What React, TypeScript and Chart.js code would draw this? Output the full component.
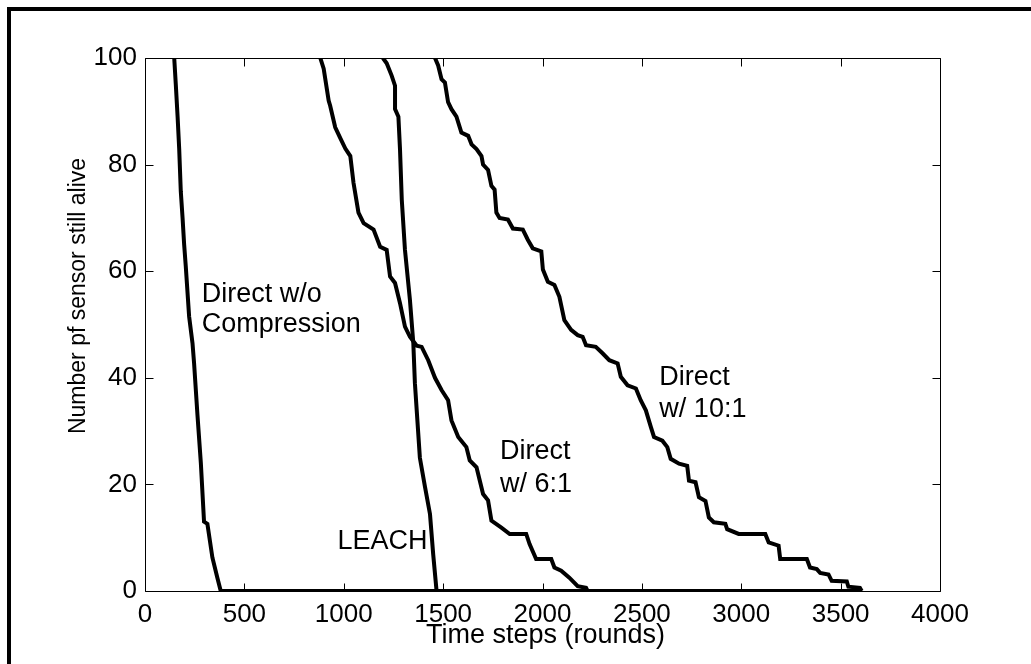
import React, { useEffect, useRef } from "react";
import { Chart, registerables } from "chart.js";

Chart.register(...registerables);

const FONT = "'Liberation Sans', Arial, Helvetica, sans-serif";

// Axis ticks
const xTicks = [0, 500, 1000, 1500, 2000, 2500, 3000, 3500, 4000];
const yTicks = [0, 20, 40, 60, 80, 100];

// Last simulated round (all curves end at 0 alive)
const END_ROUND = 3606;

// Direct transmission without compression
const directNoCompX = [147, 155, 164, 172, 180, 189, 197, 205, 222, 239, 247, 264, 281, 297, 314, 339, 364, 381];
const directNoCompY = [100, 95, 89, 83, 75, 70, 65, 61, 51.5, 46.5, 42.7, 33, 24, 13, 12.6, 6.3, 2.5, 0];

// LEACH
const leachX = [1197, 1216, 1241, 1258, 1258, 1275, 1283, 1292, 1308, 1333, 1350, 1358, 1383, 1409, 1434, 1450, 1467];
const leachY = [100, 99, 96.7, 94.8, 90.4, 89, 82.9, 73.4, 64, 54.6, 46.5, 39, 25, 19.5, 14.4, 6.9, 0];

// Direct with 6:1 compression
const direct6X = [882, 899, 924, 932, 957, 982, 1008, 1033, 1049, 1074, 1100, 1150, 1183, 1216, 1233, 1258, 1283, 1308, 1333, 1367, 1392, 1425, 1459, 1492, 1525, 1542, 1576, 1617, 1634, 1668, 1701, 1726, 1743, 1793, 1835, 1918, 1935, 1968, 2044, 2060, 2094, 2135, 2177, 2219, 2227];
const direct6Y = [100, 98, 92, 91, 87, 85, 83, 81.6, 76.6, 71, 69, 67.8, 64.6, 64, 59, 57.8, 54, 49.6, 47.7, 46, 45.8, 43.3, 40, 37.7, 35.8, 32, 28.9, 27, 24.5, 23.2, 18.2, 17, 13.2, 11.9, 10.7, 10.7, 8.8, 6, 6, 4.4, 3.8, 2.5, 0.9, 0.6, 0];

// Direct with 10:1 compression
const direct10X = [1459, 1475, 1492, 1509, 1525, 1542, 1567, 1592, 1626, 1643, 1668, 1693, 1701, 1726, 1743, 1759, 1768, 1784, 1826, 1851, 1901, 1926, 1951, 1994, 2002, 2027, 2060, 2085, 2110, 2144, 2177, 2202, 2219, 2268, 2302, 2336, 2378, 2394, 2428, 2470, 2494, 2520, 2545, 2561, 2603, 2628, 2645, 2687, 2728, 2737, 2770, 2787, 2820, 2837, 2862, 2920, 2929, 2987, 3121, 3138, 3188, 3196, 3330, 3346, 3380, 3397, 3439, 3455, 3531, 3539, 3597, 3606];
const direct10Y = [100, 98.6, 96, 95.4, 91.7, 90.4, 89, 86, 85.4, 83.8, 82.9, 81.6, 80, 79, 76, 75.3, 71, 70, 69.7, 68, 67.8, 65.9, 64.3, 63.7, 60.3, 58, 57.4, 55.2, 50.8, 49, 48, 47.7, 46.1, 45.8, 44.6, 43.3, 42.7, 40.2, 38.6, 38, 35.8, 33.9, 30.8, 28.9, 28.2, 27, 24.8, 23.9, 23.5, 20.7, 20.4, 17.6, 16.9, 13.8, 12.9, 12.6, 11.6, 10.7, 10.7, 9.1, 8.5, 6, 6, 4.4, 4.1, 3.4, 3.1, 1.9, 1.8, 0.8, 0.6, 0];

// Text labels on the plot (anchored at data coordinates: left edge, baseline)
const labelTexts = ["Direct w/o", "Compression", "LEACH", "Direct", "w/ 6:1", "Direct", "w/ 10:1"];
const labelX = [285, 285, 968, 1786, 1786, 2588, 2588];
const labelY = [54.2, 48.5, 7.9, 24.8, 18.6, 38.6, 32.6];

const xTitle = "Time steps (rounds)";
const yTitle = "Number pf sensor still alive";

function toPoints(xs: number[], ys: number[]) {
  const pts = xs.map((x, i) => ({ x, y: ys[i] }));
  if (xs[xs.length - 1] < END_ROUND) pts.push({ x: END_ROUND, y: 0 });
  return pts;
}

const matlabAxes = {
  id: "matlabAxes",
  beforeDraw(chart: any) {
    const { ctx, width, height } = chart;
    ctx.save();
    ctx.fillStyle = "#fff";
    ctx.fillRect(0, 0, width, height);
    ctx.fillStyle = "#000";
    // figure frame (top and left edges)
    ctx.fillRect(7, 7, width - 7, 4);
    ctx.fillRect(7, 7, 4, height - 7);
    ctx.restore();
  },
  beforeDatasetsDraw(chart: any) {
    const { ctx, chartArea: a, scales } = chart;
    const xs = scales.x;
    const ys = scales.y;
    ctx.save();
    ctx.strokeStyle = "#000";
    ctx.lineWidth = 1;
    const L = Math.round(a.left) + 0.5;
    const R = Math.round(a.right) + 0.5;
    const T = Math.round(a.top) + 0.5;
    const B = Math.round(a.bottom) + 0.5;
    ctx.beginPath();
    ctx.rect(L, T, R - L, B - T);
    ctx.stroke();
    const tl = 8;
    ctx.beginPath();
    xTicks.forEach((v) => {
      const p = Math.round(xs.getPixelForValue(v)) + 0.5;
      ctx.moveTo(p, B);
      ctx.lineTo(p, B - tl);
      ctx.moveTo(p, T);
      ctx.lineTo(p, T + tl);
    });
    yTicks.forEach((v) => {
      const p = Math.round(ys.getPixelForValue(v)) + 0.5;
      ctx.moveTo(L, p);
      ctx.lineTo(L + tl, p);
      ctx.moveTo(R, p);
      ctx.lineTo(R - tl, p);
    });
    ctx.stroke();
    ctx.restore();
  },
  afterDraw(chart: any) {
    const { ctx, chartArea: a, scales } = chart;
    const xs = scales.x;
    const ys = scales.y;
    ctx.save();
    ctx.fillStyle = "#000";
    ctx.textBaseline = "alphabetic";
    // annotations
    ctx.font = `27px ${FONT}`;
    ctx.textAlign = "left";
    labelTexts.forEach((t, i) => {
      ctx.fillText(t, xs.getPixelForValue(labelX[i]), ys.getPixelForValue(labelY[i]));
    });
    // x title
    ctx.font = `27px ${FONT}`;
    ctx.textAlign = "center";
    ctx.fillText(xTitle, (a.left + a.right) / 2 + 3, 643);
    // y title
    ctx.save();
    ctx.font = `23px ${FONT}`;
    ctx.translate(85, 296);
    ctx.rotate(-Math.PI / 2);
    ctx.textAlign = "center";
    ctx.fillText(yTitle, 0, 0);
    ctx.restore();
    ctx.restore();
  },
};

export default function App() {
  const ref = useRef<HTMLCanvasElement | null>(null);

  useEffect(() => {
    if (!ref.current) return;
    const mk = (xs: number[], ys: number[]) => ({
      data: toPoints(xs, ys),
      borderColor: "#000",
      backgroundColor: "#000",
      borderWidth: 4,
      pointRadius: 0,
      tension: 0,
      fill: false,
    });
    const chart = new Chart(ref.current, {
      type: "line",
      data: {
        datasets: [
          { label: "Direct w/o Compression", ...mk(directNoCompX, directNoCompY) },
          { label: "LEACH", ...mk(leachX, leachY) },
          { label: "Direct w/ 6:1", ...mk(direct6X, direct6Y) },
          { label: "Direct w/ 10:1", ...mk(direct10X, direct10Y) },
        ],
      },
      options: {
        responsive: false,
        animation: false,
        layout: { padding: { left: 0, right: 91, top: 58, bottom: 0 } },
        plugins: { legend: { display: false }, tooltip: { enabled: false } },
        scales: {
          x: {
            type: "linear",
            min: 0,
            max: 4000,
            grid: { display: false, drawTicks: false },
            border: { display: false },
            ticks: {
              stepSize: 500,
              autoSkip: false,
              maxRotation: 0,
              color: "#000",
              padding: 8,
              font: { size: 26, family: FONT },
              callback: (v: any) => String(v),
            },
            afterFit: (s: any) => {
              s.height = 73;
            },
          },
          y: {
            type: "linear",
            min: 0,
            max: 100,
            grid: { display: false, drawTicks: false },
            border: { display: false },
            ticks: {
              stepSize: 20,
              color: "#000",
              padding: 8,
              font: { size: 26, family: FONT },
              callback: (v: any) => String(v),
            },
            afterFit: (s: any) => {
              s.width = 145;
            },
          },
        },
      },
      plugins: [matlabAxes],
    });
    return () => chart.destroy();
  }, []);

  return (
    <div
      style={{
        position: "fixed",
        left: 0,
        top: 0,
        width: 1031,
        height: 664,
        background: "#fff",
        overflow: "hidden",
      }}
    >
      <canvas
        ref={ref}
        width={1031}
        height={664}
        style={{ position: "absolute", left: 0, top: 0, width: 1031, height: 664 }}
      />
    </div>
  );
}
